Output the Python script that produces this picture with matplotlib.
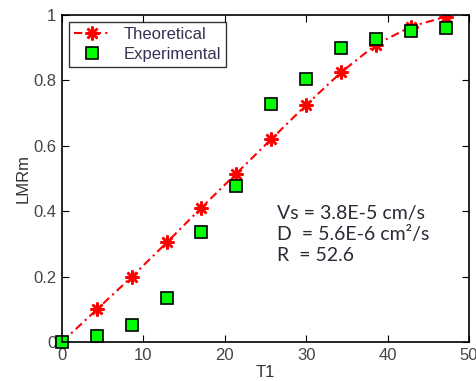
import matplotlib.pyplot as plt

# données
t1 = [0, 4.3, 8.6, 12.9, 17.1, 21.4, 25.7, 30.0, 34.3, 38.6, 42.9, 47.2]
lmrm_theo = [0, 0.10, 0.20, 0.305, 0.41, 0.515, 0.62, 0.725, 0.825, 0.91, 0.965, 0.995]
lmrm_exp = [0, 0.018, 0.052, 0.135, 0.335, 0.478, 0.727, 0.805, 0.898, 0.927, 0.95, 0.96]

x_ticks = [0, 10, 20, 30, 40, 50]
y_ticks = [0, 0.2, 0.4, 0.6, 0.8, 1]
y_tick_labels = ["0", "0.2", "0.4", "0.6", "0.8", "1"]

plt.rcParams['font.family'] = ['Liberation Sans', 'DejaVu Sans']

fig = plt.figure(figsize=(4.77, 3.81), dpi=100)
ax = fig.add_axes([0.130, 0.1024, 0.853, 0.858])

# marqueur astérisque à 8 branches (style MATLAB)
ax.plot(t1, lmrm_theo, color='red', linestyle=(0, (4, 2, 1, 2)), linewidth=1.5,
        marker=(8, 2, 0), markersize=10, markeredgewidth=1.8,
        markeredgecolor='red', label='Theoretical')
ax.plot(t1, lmrm_exp, linestyle='none', marker='s', markersize=8,
        markerfacecolor='#00ff00', markeredgecolor='black', markeredgewidth=1.2,
        label='Experimental', clip_on=False)

ax.set_xlim(0, 50)
ax.set_ylim(0, 1)
ax.set_xticks(x_ticks)
ax.set_yticks(y_ticks)
ax.set_yticklabels(y_tick_labels)
ax.tick_params(direction='in', top=True, right=True, length=5, labelsize=12,
               labelcolor='#444444', pad=4)
for s in ax.spines.values():
    s.set_linewidth(1.2)

ax.set_xlabel("T1", fontsize=12, color='#333333', labelpad=2)
ax.set_ylabel("LMRm", fontsize=12, color='#333333', labelpad=2)

leg = ax.legend(loc='upper left', fontsize=12, frameon=True, fancybox=False,
                edgecolor='black', borderaxespad=0.4, handlelength=2.2,
                borderpad=0.3, labelspacing=0.3)
leg.get_frame().set_linewidth(1.0)
for t in leg.get_texts():
    t.set_color('#333355')

ax.text(0.528, 0.42, "Vs = 3.8E-5 cm/s\nD  = 5.6E-6 cm²/s\nR  = 52.6",
        transform=ax.transAxes, fontsize=14, family=['Lato', 'DejaVu Sans'],
        color='#2b2a35', va='top', ha='left', linespacing=1.28)

plt.savefig("out.png", dpi=100)
plt.close()
